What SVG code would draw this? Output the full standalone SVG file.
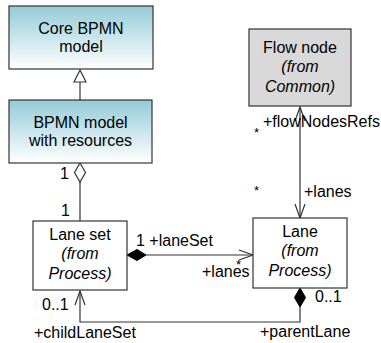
<svg xmlns="http://www.w3.org/2000/svg" width="381" height="343" viewBox="0 0 381 343">
<style>
text{font-family:"Liberation Sans",Arial,sans-serif;font-size:16px;fill:#000}
.c{text-anchor:middle}
.i{font-style:italic}
.s{font-size:13px}
.box{stroke:#333;stroke-width:1.2}
.ln{fill:none;stroke:#333;stroke-width:1.2}
</style>
<defs>
<linearGradient id="g" x1="0" y1="0" x2="0" y2="1">
<stop offset="0" stop-color="#94cbd8"/>
<stop offset="1" stop-color="#ffffff"/>
</linearGradient>
</defs>
<g id="connectors">
<path class="ln" d="M80,82 V100"/>
<polygon points="80,70 86,82 74,82" fill="#fff" stroke="#333" stroke-width="1.2"/>
<path class="ln" d="M80,182 V221"/>
<polygon points="80,163 85.5,172.5 80,182 74.5,172.5" fill="#fff" stroke="#333" stroke-width="1.2"/>
<path class="ln" d="M146,255 H253"/>
<polygon points="127,255 137,249.5 146,255 137,260.5" fill="#000" stroke="#000"/>
<path class="ln" d="M239,250 L253,255 L239,260"/>
<path class="ln" d="M300,107 V218"/>
<path class="ln" d="M295,121 L300,107 L305,121"/>
<path class="ln" d="M295,204 L300,218 L305,204"/>
<path class="ln" d="M300,307 V322 H80 V291"/>
<polygon points="300,288 305.5,297.5 300,307 294.5,297.5" fill="#000" stroke="#000"/>
<path class="ln" d="M75,305 L80,291 L85,305"/>
<text x="60" y="179">1</text>
<text x="61" y="216">1</text>
<text x="136" y="246">1 +laneSet</text>
<text class="s" x="236" y="269">*</text>
<text x="202" y="277">+lanes</text>
<text class="s" x="254" y="137">*</text>
<text x="263" y="127">+flowNodesRefs</text>
<text class="s" x="254" y="195">*</text>
<text x="304" y="197">+lanes</text>
<text x="315" y="302">0..1</text>
<text x="260" y="337">+parentLane</text>
<text x="42" y="310">0..1</text>
<text x="34" y="338">+childLaneSet</text>
</g>
<g id="core">
<rect class="box" x="9" y="6" width="144" height="63" fill="url(#g)"/>
<text class="c" x="81" y="34">Core BPMN</text>
<text class="c" x="81" y="52">model</text>
</g>
<g id="bpmn-resources">
<rect class="box" x="9" y="100" width="143" height="63" fill="url(#g)"/>
<text class="c" x="80.5" y="128">BPMN model</text>
<text class="c" x="80.5" y="146">with resources</text>
</g>
<g id="flow-node">
<rect class="box" x="249" y="29" width="102" height="77" fill="#d9d9d9"/>
<text class="c" x="300" y="53">Flow node</text>
<text class="c i" x="300" y="72">(from</text>
<text class="c i" x="300" y="92">Common)</text>
</g>
<g id="lane-set">
<rect class="box" x="33" y="221" width="94" height="69" fill="#fff"/>
<text class="c" x="80" y="240">Lane set</text>
<text class="c i" x="80" y="259">(from</text>
<text class="c i" x="80" y="279">Process)</text>
</g>
<g id="lane">
<rect class="box" x="253" y="218" width="94" height="70" fill="#fff"/>
<text class="c" x="300" y="237">Lane</text>
<text class="c i" x="300" y="256">(from</text>
<text class="c i" x="300" y="276">Process)</text>
</g>
</svg>
